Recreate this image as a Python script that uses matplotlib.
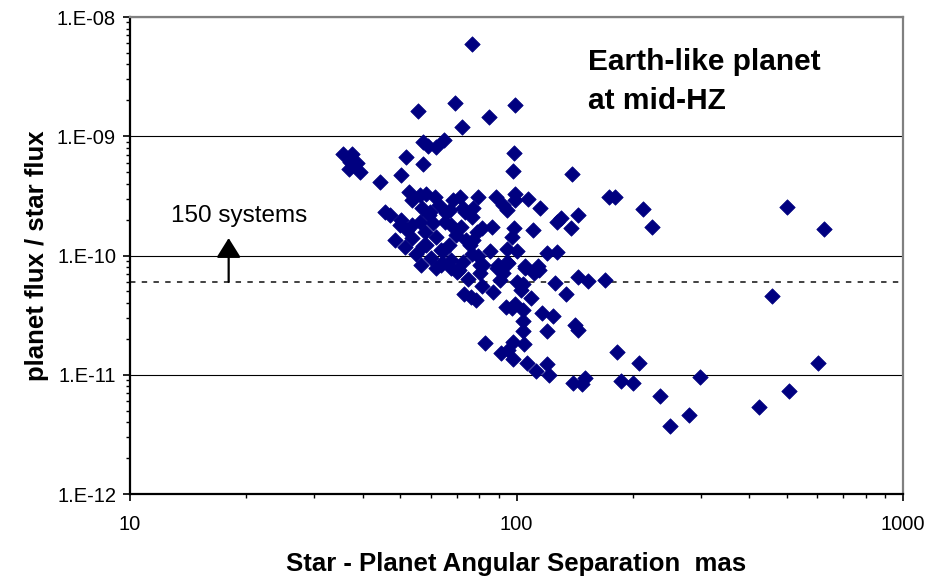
import matplotlib
matplotlib.use("Agg")
import matplotlib.pyplot as plt
from matplotlib.ticker import LogLocator, NullFormatter, FixedLocator, FixedFormatter

plt.rcParams['font.family'] = ['Liberation Sans', 'DejaVu Sans']

# Star-planet angular separation (mas) and planet/star flux ratio
separation_mas = [
    76.9, 69.4, 55.7, 85.1, 99.0, 72.1, 57.4, 58.9, 61.8, 64.9,
    35.6, 37.5, 37.1, 38.6, 36.9, 39.3, 51.8, 57.2, 50.4, 44.4,
    98.8, 97.8, 52.8, 56.2, 58.2, 61.5, 71.5, 79.5, 88.3, 99.0,
    53.6, 45.7, 47.1, 50.4, 56.9, 59.8, 56.3, 60.8, 57.9, 53.6,
    57.4, 62.0, 64.6, 64.1, 139.6, 173.0, 180.0, 212.0, 92.2, 94.4,
    99.0, 107.4, 115.0, 130.4, 127.6, 144.6, 138.0, 110.4, 98.7, 97.4,
    81.3, 86.3, 73.6, 77.4, 76.6, 67.3, 65.3, 85.5, 94.3, 100.0,
    119.8, 127.0, 79.7, 77.4, 105.0, 113.7, 89.8, 94.9, 80.5, 70.1,
    75.1, 80.4, 81.8, 81.2, 88.9, 92.3, 90.6, 94.3, 100.0, 103.8,
    102.8, 105.0, 111.2, 114.4, 126.0, 134.2, 144.5, 153.0, 73.0, 78.6,
    76.4, 87.0, 109.3, 93.7, 99.0, 103.8, 97.2, 103.8, 103.8, 116.6,
    124.6, 119.7, 141.7, 144.5, 83.0, 98.1, 104.5, 91.4, 94.9, 98.1,
    106.7, 112.0, 120.0, 121.5, 140.2, 147.5, 150.5, 224.0, 502.0, 625.0,
    169.0, 457.0, 182.5, 208.0, 601.0, 186.0, 200.0, 298.5, 234.5, 249.0,
    280.0, 425.0, 508.0, 63.8, 67.8, 70.1,
    49.9, 52.2, 53.8, 59.2, 63.0, 65.7, 67.8, 69.9, 72.0, 74.2,
    67.0, 63.8, 60.0, 56.5, 61.9, 67.8, 71.2, 72.8, 76.5, 75.8,
    78.9, 58.2, 54.8, 51.5, 48.5, 68.6, 72.8,
]
flux_ratio = [
    5.9e-9, 1.9e-9, 1.64e-9, 1.46e-9, 1.83e-9, 1.2e-9, 9.0e-10, 8.3e-10, 8.1e-10, 9.3e-10,
    7.1e-10, 7.1e-10, 6.1e-10, 6.0e-10, 5.3e-10, 5.0e-10, 6.7e-10, 5.9e-10, 4.7e-10, 4.1e-10,
    7.3e-10, 5.1e-10, 3.4e-10, 3.2e-10, 3.3e-10, 3.1e-10, 3.1e-10, 3.1e-10, 3.1e-10, 3.3e-10,
    2.9e-10, 2.33e-10, 2.19e-10, 2.0e-10, 2.5e-10, 2.33e-10, 1.92e-10, 1.86e-10, 1.58e-10, 1.39e-10,
    1.19e-10, 1.44e-10, 1.1e-10, 8.6e-11, 4.8e-10, 3.1e-10, 3.1e-10, 2.47e-10, 2.65e-10, 2.4e-10,
    2.9e-10, 2.95e-10, 2.5e-10, 2.05e-10, 1.9e-10, 2.2e-10, 1.69e-10, 1.64e-10, 1.69e-10, 1.43e-10,
    1.7e-10, 1.75e-10, 2.3e-10, 2.5e-10, 2.1e-10, 2.4e-10, 1.9e-10, 1.1e-10, 1.14e-10, 1.1e-10,
    1.04e-10, 1.08e-10, 1.0e-10, 1.35e-10, 8.1e-11, 8.1e-11, 8.3e-11, 8.6e-11, 8.3e-11, 7.6e-11,
    6.4e-11, 7.1e-11, 8.3e-11, 5.6e-11, 7.8e-11, 7.1e-11, 6.2e-11, 8.9e-11, 6.0e-11, 5.8e-11,
    5.1e-11, 7.8e-11, 7.1e-11, 7.6e-11, 5.9e-11, 4.8e-11, 6.6e-11, 6.1e-11, 4.8e-11, 4.2e-11,
    4.5e-11, 4.9e-11, 4.4e-11, 3.7e-11, 3.9e-11, 3.5e-11, 3.6e-11, 2.8e-11, 2.35e-11, 3.3e-11,
    3.1e-11, 2.34e-11, 2.6e-11, 2.36e-11, 1.86e-11, 1.9e-11, 1.8e-11, 1.53e-11, 1.6e-11, 1.36e-11,
    1.26e-11, 1.07e-11, 1.23e-11, 1.0e-11, 8.6e-12, 8.3e-12, 9.4e-12, 1.73e-10, 2.57e-10, 1.68e-10,
    6.2e-11, 4.6e-11, 1.56e-11, 1.26e-11, 1.26e-11, 8.9e-12, 8.6e-12, 9.6e-12, 6.6e-12, 3.7e-12,
    4.6e-12, 5.4e-12, 7.3e-12, 8.4e-11, 7.8e-11, 7.3e-11,
    1.81e-10, 1.64e-10, 1.81e-10, 2.19e-10, 2.63e-10, 2.29e-10, 1.81e-10, 1.49e-10, 1.72e-10, 1.35e-10,
    1.23e-10, 1.12e-10, 9.6e-11, 8.4e-11, 7.9e-11, 9.2e-11, 7.6e-11, 8.8e-11, 1.02e-10, 1.23e-10,
    1.56e-10, 1.23e-10, 1.02e-10, 1.17e-10, 1.35e-10, 2.92e-10, 2.5e-10,
]

# Detection threshold and the count of systems above it
threshold = 6.0e-11
threshold_label = "150 systems"
arrow_x = 18.0
arrow_top = 1.4e-10

ytick_values = [1e-12, 1e-11, 1e-10, 1e-9, 1e-8]
ytick_labels = ["1.E-12", "1.E-11", "1.E-10", "1.E-09", "1.E-08"]
xtick_values = [10, 100, 1000]
xtick_labels = ["10", "100", "1000"]

fig = plt.figure(figsize=(9.43, 5.81), dpi=100)
ax = fig.add_axes([130 / 943, 87 / 581, 773 / 943, 477 / 581])

ax.set_xscale('log')
ax.set_yscale('log')
ax.set_xlim(10, 1000)
ax.set_ylim(1e-12, 1e-8)

for v in ytick_values:
    ax.axhline(v, color='black', lw=0.8, zorder=1)

ax.axhline(threshold, color='#333333', lw=1.3, ls=(0, (3, 3.5)), zorder=1)

ax.scatter(separation_mas, flux_ratio, marker='D', s=62, color='#000080',
           edgecolors='#000080', linewidths=0.5, zorder=3)

ax.annotate('', xy=(arrow_x, arrow_top), xytext=(arrow_x, threshold),
            arrowprops=dict(arrowstyle='-|>,head_length=1.2,head_width=0.75',
                            color='black', lw=1.6, shrinkA=0, shrinkB=0),
            zorder=4)
ax.text(arrow_x * 1.065, 2.15e-10, threshold_label, ha='center', va='center',
        fontsize=17.5, color='black')

ax.text(0.593, 0.935, "Earth-like planet\nat mid-HZ", transform=ax.transAxes,
        ha='left', va='top', fontsize=21.5, fontweight='bold', linespacing=1.5)

ax.yaxis.set_major_locator(FixedLocator(ytick_values))
ax.yaxis.set_major_formatter(FixedFormatter(ytick_labels))
ax.yaxis.set_minor_locator(LogLocator(base=10, subs=range(2, 10)))
ax.yaxis.set_minor_formatter(NullFormatter())
ax.xaxis.set_major_locator(FixedLocator(xtick_values))
ax.xaxis.set_major_formatter(FixedFormatter(xtick_labels))
ax.xaxis.set_minor_locator(LogLocator(base=10, subs=range(2, 10)))
ax.xaxis.set_minor_formatter(NullFormatter())

ax.tick_params(axis='both', which='major', direction='out', length=5, width=1.2,
               labelsize=14.5, colors='black')
ax.tick_params(axis='both', which='minor', direction='out', length=3, width=1.0)
ax.tick_params(axis='x', which='major', pad=10)
ax.tick_params(axis='y', which='major', pad=5)

for side in ('left', 'bottom'):
    ax.spines[side].set_color('black')
    ax.spines[side].set_linewidth(1.6)
for side in ('top', 'right'):
    ax.spines[side].set_color('#808080')
    ax.spines[side].set_linewidth(1.6)

ax.set_xlabel("Star - Planet Angular Separation  mas", fontsize=18.5,
              fontweight='bold', labelpad=13)
ax.set_ylabel("planet flux / star flux", fontsize=18.5, fontweight='bold',
              labelpad=6)

fig.savefig("out.png", dpi=100)
